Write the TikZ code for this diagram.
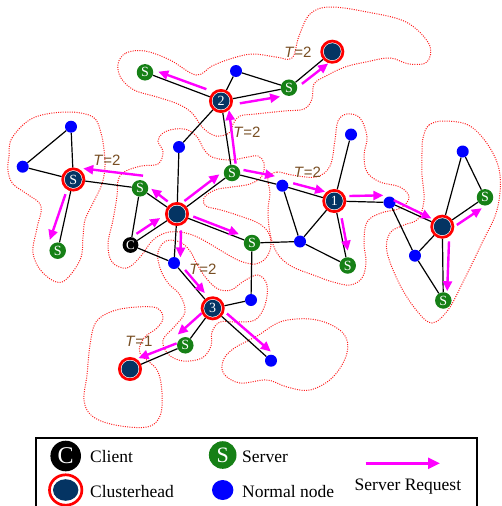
\documentclass[tikz,border=0pt]{standalone}
\usepackage{fontspec}
\setmainfont{Liberation Serif}
\newfontfamily\labelfont{Liberation Sans}
\usetikzlibrary{calc,arrows.meta,shapes.geometric}
\pgfdeclarelayer{bg}
\pgfsetlayers{bg,main}
\definecolor{chnavy}{RGB}{4,52,99}
\definecolor{srvgreen}{RGB}{22,128,22}
\definecolor{nodeblue}{RGB}{0,0,255}
\definecolor{tbrown}{RGB}{120,78,35}
\definecolor{hullred}{RGB}{255,30,30}
\definecolor{reqpink}{RGB}{255,0,255}
% server request arrow from node #1 towards node #2:
% starts at fraction #3 with side offset #4, ends at fraction #5 with side offset #6
\newcommand\srvreq[6]{\draw[req] ($(#1)!#3!(#2)!#4!90:(#2)$) -- ($(#1)!#5!(#2)!#6!90:(#2)$);}
\begin{document}
\begin{tikzpicture}[x=1pt,y=-1pt,
  edge/.style={black, line width=1.2pt},
  req/.style={draw=reqpink, line width=2.4pt, -{Triangle[length=10pt,width=9pt]}},
  hull/.style={draw=hullred, line width=1pt, dash pattern=on 1pt off 1.3pt},
  normal/.style={circle, fill=nodeblue, minimum size=12pt, inner sep=0pt},
  server/.style={circle, fill=srvgreen, minimum size=16.5pt, inner sep=0pt, text=white, font=\fontsize{14}{14}\selectfont},
  client/.style={circle, fill=black, minimum size=15.8pt, inner sep=0pt, text=white, font=\fontsize{13}{13}\selectfont},
  head/.style={circle, draw=red, line width=2.7pt, fill=white, minimum size=21.3pt, inner sep=0pt,
    text=white, font=\fontsize{14}{14}\selectfont,
    path picture={\fill[chnavy] (path picture bounding box.center) circle (8.5pt);}},
  tlab/.style={font=\labelfont\fontsize{15}{15}\selectfont, text=tbrown, inner sep=0pt},
  keytext/.style={font=\fontsize{17.5}{17.5}\selectfont, inner sep=0pt, anchor=base west}]
\clip (0,0) rectangle (501,506);

% clusterheads
\node[head] (ch0) at (177,214) {};
\node[head] (ch2) at (221,101) {2};
\node[head] (ch1) at (334.3,201) {1};
\node[head] (ch3) at (212.7,308.3) {3};
\node[head] (chL) at (73.3,179.5) {S};
\node[head] (chT) at (332.3,51.7) {};
\node[head] (chR) at (442.3,226.7) {};
\node[head] (chB) at (130,369) {};
% client
\node[client] (c) at (130.5,245) {C};
% servers
\node[server] (s1) at (145,72.3) {S};
\node[server] (s2) at (289,87.7) {S};
\node[server] (s3) at (140,188.3) {S};
\node[server] (s4) at (232,173) {S};
\node[server] (s5) at (57.7,250.7) {S};
\node[server] (s6) at (252,243) {S};
\node[server] (s7) at (347.7,265.5) {S};
\node[server] (s8) at (485,197.3) {S};
\node[server] (s9) at (443.3,300.5) {S};
\node[server] (s10) at (185.3,345.3) {S};
% normal nodes
\node[normal] (n1) at (236,71) {};
\node[normal] (n2) at (179,147) {};
\node[normal] (n3) at (71,126.7) {};
\node[normal] (n4) at (22.7,166.7) {};
\node[normal] (n5) at (174,263) {};
\node[normal] (n6) at (251,300) {};
\node[normal] (n7) at (271,360.7) {};
\node[normal] (n8) at (282.3,185.7) {};
\node[normal] (n9) at (300,241.5) {};
\node[normal] (n10) at (351,134.5) {};
\node[normal] (n11) at (389.5,202.5) {};
\node[normal] (n12) at (462.7,151.5) {};
\node[normal] (n13) at (415,255.7) {};

\begin{pgfonlayer}{bg}
  % cluster outlines
  \draw[hull] plot[smooth cycle, tension=0.6] coordinates {(118,64) (126,53) (145,51) (170,60) (196,75) (212,66) (230,59) (252,54) (276,57) (292,58) (299,36) (310,14) (330,7) (367,12) (406,22) (429,44) (427,62) (409,64) (390,58) (366,62) (345,67) (326,76) (314,84) (312,99) (304,109) (284,111) (256,114) (240,116) (233,124) (229,133) (216,136) (203,128) (192,113) (178,104) (157,97) (134,90) (121,78)};
  \draw[hull] plot[smooth cycle, tension=0.6] coordinates {(9,156) (12,138) (33,118) (67,112) (93,117) (101,133) (104,150) (105,166) (102,184) (93,203) (85,220) (83,237) (80,260) (62,282) (43,273) (33,253) (37,228) (41,206) (27,194) (13,184) (8,171)};
  \draw[hull] plot[smooth cycle, tension=0.6] coordinates {(117,196) (118,181) (124,172) (141,166) (158,164) (163,152) (158,141) (163,133) (175,129) (188,130) (198,138) (203,148) (212,157) (230,160) (248,157) (258,156) (264,163) (262,176) (250,184) (232,187) (215,190) (204,198) (206,206) (221,210) (240,216) (258,223) (268,232) (271,245) (266,258) (255,264) (240,261) (225,253) (210,244) (195,236) (180,232) (165,233) (152,241) (141,256) (127,268) (112,262) (108,244) (113,220)};
  \draw[hull] plot[smooth cycle, tension=0.6] coordinates {(158,252) (166,241) (180,242) (190,251) (197,264) (206,278) (218,289) (231,290) (244,281) (258,275) (267,285) (265,305) (255,320) (236,322) (220,322) (212,332) (211,346) (202,358) (183,361) (168,354) (163,340) (175,326) (185,312) (180,295) (168,283) (160,268)};
  \draw[hull] plot[smooth cycle, tension=0.6] coordinates {(96,322) (113,311) (137,307) (157,308) (163,318) (157,328) (144,338) (140,353) (157,370) (162,393) (160,416) (147,427) (115,425) (92,416) (84,400) (87,375) (90,345)};
  \draw[hull] plot[smooth cycle, tension=0.6] coordinates {(223,361) (233,349) (257,336) (283,321) (317,320) (343,333) (347,353) (333,377) (310,390) (287,387) (267,380) (240,383) (224,374)};
  \draw[hull] plot[smooth cycle, tension=0.6] coordinates {(268,178) (277,172) (292,175) (316,177) (330,166) (335,140) (338,121) (347,114) (360,118) (367,137) (364,155) (367,172) (380,182) (400,187) (409,197) (401,208) (381,213) (367,222) (364,243) (366,262) (362,278) (350,285) (333,282) (316,276) (291,266) (277,253) (270,233) (268,210) (270,193)};
  \draw[hull] plot[smooth cycle, tension=0.6] coordinates {(423,138) (429,125) (445,121) (470,126) (490,148) (500,175) (497,210) (482,243) (463,282) (448,310) (432,323) (417,311) (400,285) (387,252) (390,233) (404,225) (418,219) (424,200) (422,175) (422,153)};

  % links
  \draw[edge] (ch2) -- (s1);  \draw[edge] (ch2) -- (n1);  \draw[edge] (ch2) -- (s2);
  \draw[edge] (n1) -- (s2);   \draw[edge] (s2) -- (chT);  \draw[edge] (ch2) -- (n2);
  \draw[edge] (n2) -- (ch0);  \draw[edge] (ch2) -- (s4);  \draw[edge] (s4) -- (ch0);
  \draw[edge] (s4) -- (n8);   \draw[edge] (n8) -- (ch1);  \draw[edge] (n8) -- (n9);
  \draw[edge] (ch1) -- (n9);  \draw[edge] (n9) -- (s7);   \draw[edge] (ch1) -- (s7);
  \draw[edge] (n9) -- (s6);   \draw[edge] (ch1) -- (n10); \draw[edge] (ch1) -- (n11);
  \draw[edge] (n11) -- (chR); \draw[edge] (n11) -- (n13); \draw[edge] (n13) -- (chR);
  \draw[edge] (n13) -- (s9);  \draw[edge] (chR) -- (s9);  \draw[edge] (chR) -- (n12);
  \draw[edge] (chR) -- (s8);  \draw[edge] (n12) -- (s8);
  \draw[edge] (chL) -- (n3);  \draw[edge] (chL) -- (n4);  \draw[edge] (n4) -- (n3);
  \draw[edge] (chL) -- (s3);  \draw[edge] (chL) -- (s5);
  \draw[edge] (s3) -- (ch0);  \draw[edge] (s3) -- (c);    \draw[edge] (c) -- (ch0);
  \draw[edge] (c) -- (n5);    \draw[edge] (ch0) -- (n5);  \draw[edge] (ch0) -- (s6);
  \draw[edge] (s6) -- (n6);   \draw[edge] (n5) -- (ch3);  \draw[edge] (ch3) -- (n6);
  \draw[edge] (ch3) -- (n7);  \draw[edge] (ch3) -- (s10); \draw[edge] (s10) -- (chB);
\end{pgfonlayer}

% server requests
\srvreq{c}{ch0}{0.2}{6pt}{0.71}{6pt}
\srvreq{ch0}{s3}{0.33}{-5pt}{0.79}{-6pt}
\srvreq{ch0}{s4}{0.2}{6pt}{0.84}{6.5pt}
\srvreq{ch0}{s6}{0.2}{3.5pt}{0.81}{3.5pt}
\srvreq{ch0}{n5}{0.33}{5pt}{0.88}{6pt}
\srvreq{n5}{ch3}{0.21}{3.9pt}{0.72}{3.9pt}
\srvreq{ch3}{s10}{0.23}{-6pt}{0.91}{-12.5pt}
\srvreq{s10}{chB}{0.12}{-5.2pt}{0.8}{-6.6pt}
\srvreq{ch3}{n7}{0.18}{5.6pt}{0.92}{6.7pt}
\srvreq{s3}{chL}{-0.02}{-12.9pt}{0.875}{-12.2pt}
\srvreq{chL}{s5}{0.22}{-4.5pt}{0.88}{-10pt}
\srvreq{s4}{ch2}{0.12}{-5pt}{0.86}{-6.5pt}
\srvreq{ch2}{s1}{0.22}{-5.9pt}{0.85}{-5.3pt}
\srvreq{ch2}{s2}{0.26}{-5.9pt}{0.85}{-7pt}
\srvreq{s2}{chT}{0.22}{-5.3pt}{0.81}{-6.4pt}
\srvreq{s4}{n8}{0.2}{5.7pt}{0.82}{7.5pt}
\srvreq{n8}{ch1}{0.18}{5.4pt}{0.79}{6.3pt}
\srvreq{ch1}{n11}{0.27}{5.4pt}{0.885}{7pt}
\srvreq{n11}{chR}{0.05}{3.9pt}{0.77}{3pt}
\srvreq{ch1}{s7}{0.28}{3.7pt}{0.78}{3.1pt}
\srvreq{chR}{s8}{0.25}{-6.8pt}{0.83}{-7.2pt}
\srvreq{chR}{s9}{0.2}{6.5pt}{0.875}{4pt}

% hop counts
\node[tlab] (t1) at (298,52) {\textit{T}=2};
\node[tlab] (t2) at (247,132.5) {\textit{T}=2};
\node[tlab] (t3) at (107,160) {\textit{T}=2};
\node[tlab] (t4) at (307.5,172.5) {\textit{T}=2};
\node[tlab] (t5) at (203,269) {\textit{T}=2};
\node[tlab] (t6) at (139,341) {\textit{T}=1};

% legend
\draw[line width=1.2pt] (36,438) rectangle (477,515);
\node[client, minimum size=30.6pt, font=\fontsize{24}{24}\selectfont] (kc) at (65.7,456) {C};
\node[keytext] (kct) at (90,462.3) {Client};
\node[ellipse, draw=red, line width=2.7pt, fill=white, minimum width=32.4pt, minimum height=30.4pt, inner sep=0pt,
  path picture={\fill[chnavy] (path picture bounding box.center) ellipse [x radius=12.7pt, y radius=10.8pt];}] (kh) at (65.7,490) {};
\node[keytext] (kht) at (90,497.3) {Clusterhead};
\node[server, minimum size=27.6pt, font=\fontsize{22}{22}\selectfont] (ks) at (222.7,455) {S};
\node[keytext] (kst) at (242,462.7) {Server};
\node[ellipse, fill=nodeblue, minimum width=21.4pt, minimum height=20pt, inner sep=0pt] (kn) at (222.7,490) {};
\node[keytext] (knt) at (242,497.3) {Normal node};
\coordinate (ka) at (365.7,463.3);
\coordinate (kb) at (440,463.3);
\draw[req, line width=2.6pt, -{Triangle[length=12pt,width=11pt]}] (ka) -- (kb);
\node[keytext] (kat) at (354.5,490.7) {Server Request};
\end{tikzpicture}
\end{document}
